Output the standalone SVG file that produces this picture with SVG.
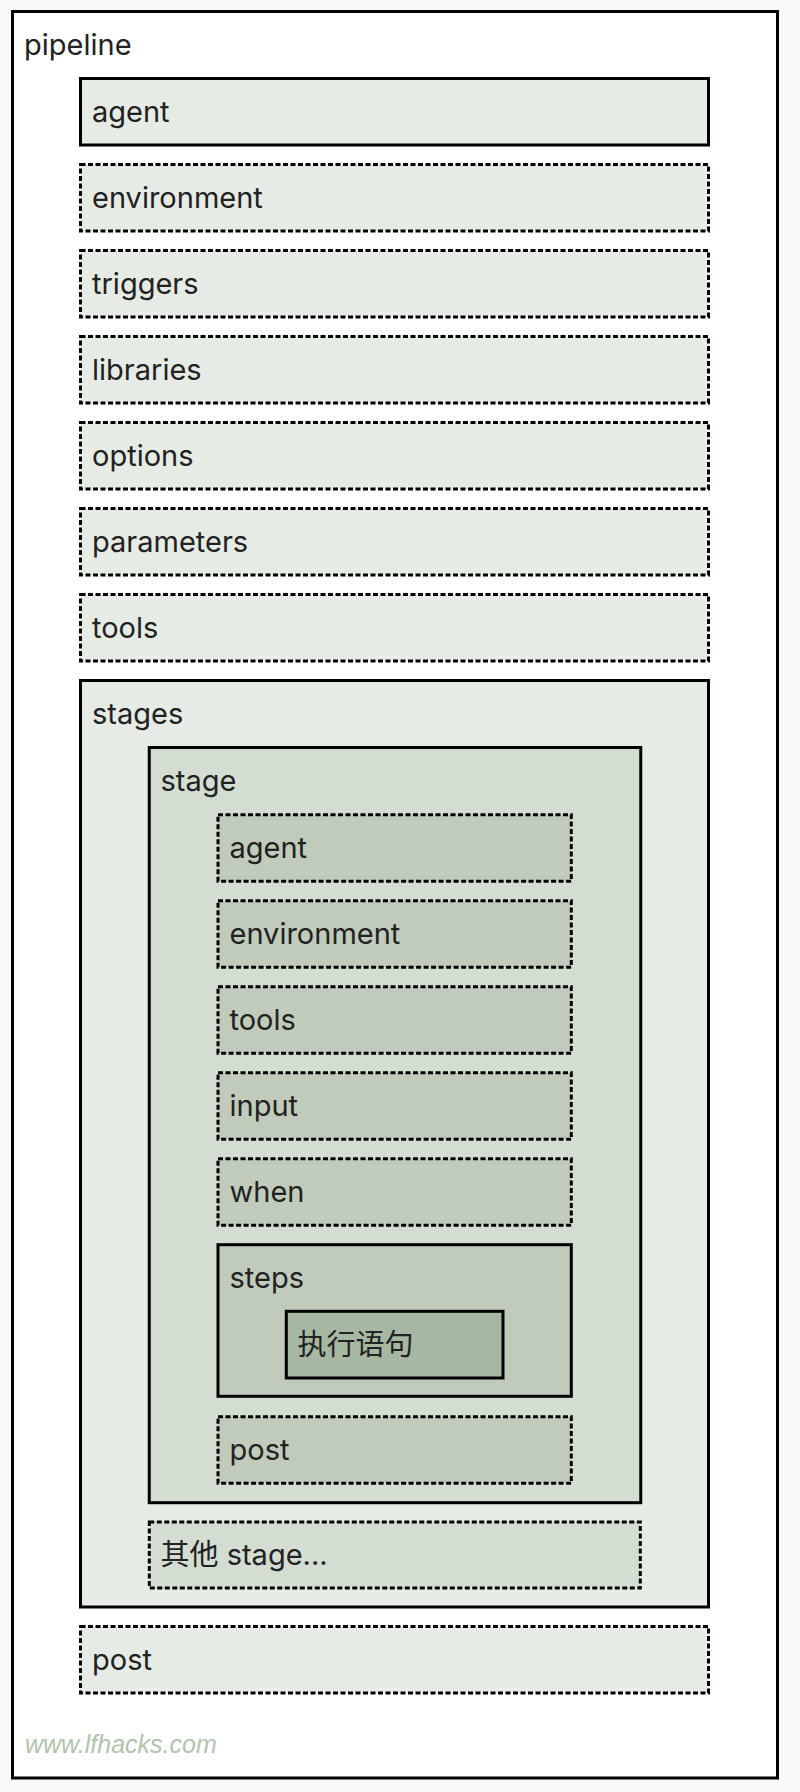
<svg xmlns="http://www.w3.org/2000/svg" width="800" height="1792" viewBox="0 0 800 1792">
<style>
  .box { stroke: #000; stroke-width: 3; }
  .dash { stroke-dasharray: 5 2.5; }
  .l1 { fill: #e6ebe5; }
  .l2 { fill: #d4ddd2; }
  .l3 { fill: #c0cbbb; }
  .l4 { fill: #a7b8a2; }
  .lbl { font-family: Inter, "Noto Sans CJK SC", sans-serif; font-size: 29px; fill: #222; }
  .wm { font-family: "Liberation Sans", sans-serif; font-size: 25px; font-style: italic; fill: #b0c3ad; }
</style>
<rect x="0" y="0" width="800" height="1792" fill="#f9f9f9"/>
<g id="pipeline">
  <rect class="box" x="12.5" y="11.5" width="765" height="1766.5" fill="#fff"/>
  <text class="lbl" x="24" y="55">pipeline</text>
</g>
<g id="agent">
  <rect class="box l1" x="80.5" y="78.5" width="628" height="66.5"/>
  <text class="lbl" x="92" y="122">agent</text>
</g>
<g id="environment">
  <rect class="box dash l1" x="80.5" y="164.5" width="628" height="66.5"/>
  <text class="lbl" x="92" y="208">environment</text>
</g>
<g id="triggers">
  <rect class="box dash l1" x="80.5" y="250.5" width="628" height="66.5"/>
  <text class="lbl" x="92" y="294">triggers</text>
</g>
<g id="libraries">
  <rect class="box dash l1" x="80.5" y="336.5" width="628" height="66.5"/>
  <text class="lbl" x="92" y="380">libraries</text>
</g>
<g id="options">
  <rect class="box dash l1" x="80.5" y="422.5" width="628" height="66.5"/>
  <text class="lbl" x="92" y="466">options</text>
</g>
<g id="parameters">
  <rect class="box dash l1" x="80.5" y="508.5" width="628" height="66.5"/>
  <text class="lbl" x="92" y="552">parameters</text>
</g>
<g id="tools">
  <rect class="box dash l1" x="80.5" y="594.5" width="628" height="66.5"/>
  <text class="lbl" x="92" y="638">tools</text>
</g>
<g id="stages">
  <rect class="box l1" x="80.5" y="680.5" width="628" height="926.5"/>
  <text class="lbl" x="92" y="724">stages</text>
</g>
<g id="stage">
  <rect class="box l2" x="149.25" y="747.5" width="491.5" height="755.2"/>
  <text class="lbl" x="160.5" y="791">stage</text>
</g>
<g id="stage-agent">
  <rect class="box dash l3" x="218" y="814.7" width="353.3" height="66.5"/>
  <text class="lbl" x="229.5" y="858.2">agent</text>
</g>
<g id="stage-environment">
  <rect class="box dash l3" x="218" y="900.7" width="353.3" height="66.5"/>
  <text class="lbl" x="229.5" y="944.2">environment</text>
</g>
<g id="stage-tools">
  <rect class="box dash l3" x="218" y="986.7" width="353.3" height="66.5"/>
  <text class="lbl" x="229.5" y="1030.2">tools</text>
</g>
<g id="stage-input">
  <rect class="box dash l3" x="218" y="1072.7" width="353.3" height="66.5"/>
  <text class="lbl" x="229.5" y="1116.2">input</text>
</g>
<g id="stage-when">
  <rect class="box dash l3" x="218" y="1158.7" width="353.3" height="66.5"/>
  <text class="lbl" x="229.5" y="1202.2">when</text>
</g>
<g id="steps">
  <rect class="box l3" x="218" y="1244.7" width="353.3" height="151.6"/>
  <text class="lbl" x="229.5" y="1288.2">steps</text>
</g>
<g id="exec">
  <rect class="box l4" x="286.3" y="1311.3" width="216.7" height="66.7"/>
  <text class="lbl" x="297.5" y="1354.5">执行语句</text>
</g>
<g id="stage-post">
  <rect class="box dash l3" x="218" y="1416.7" width="353.3" height="66.5"/>
  <text class="lbl" x="229.5" y="1460.2">post</text>
</g>
<g id="other-stage">
  <rect class="box dash l2" x="149.3" y="1522" width="491" height="66"/>
  <text class="lbl" x="160.5" y="1565">其他 stage...</text>
</g>
<g id="post">
  <rect class="box dash l1" x="80.5" y="1626.5" width="628" height="66.5"/>
  <text class="lbl" x="92" y="1670">post</text>
</g>
<g id="connectors"></g>
<text class="wm" x="25" y="1753">www.lfhacks.com</text>
</svg>
